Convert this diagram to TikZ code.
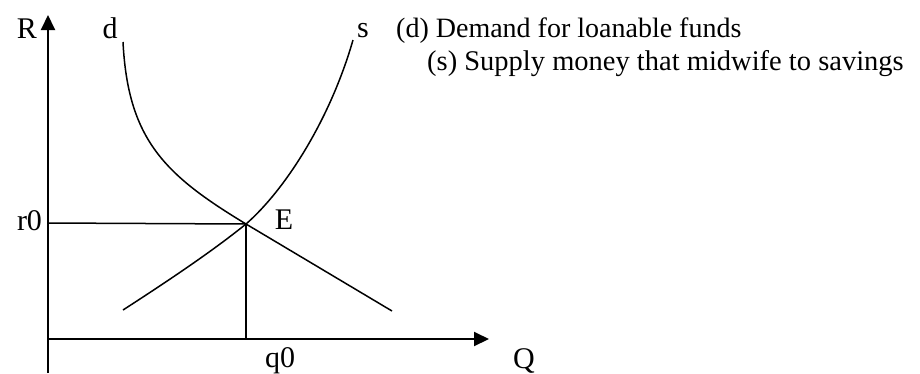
\documentclass[tikz,border=0pt]{standalone}
\usepackage{fontspec}
\setmainfont{Liberation Serif}
\usetikzlibrary{arrows.meta}
\begin{document}
\begin{tikzpicture}[x=1pt,y=-1pt,
  lbl/.style={font=\fontsize{30}{32}\selectfont, inner sep=0pt, anchor=base},
  legend/.style={inner sep=0pt, anchor=base west},
  curve/.style={line width=1.5pt},
  thin line/.style={line width=1.5pt},
  axis/.style={line width=2pt, -{Triangle[length=15pt,width=14pt]}}]
\useasboundingbox (0,0) rectangle (920,373);
% key points
\coordinate (Ybot) at (48,373);
\coordinate (Ytop) at (48,15);
\coordinate (Xstart) at (48,339);
\coordinate (Xend) at (489,339);
\coordinate (E) at (246,224);
\coordinate (r0pt) at (48,223);
\coordinate (q0pt) at (246,339);
\coordinate (dtop) at (123,42);
\coordinate (dend) at (392,311);
\coordinate (sbot) at (123,310);
\coordinate (stop) at (353,40);
% axes
\draw[axis] (Ybot) -- (Ytop);
\draw[axis] (Xstart) -- (Xend);
% guide lines
\draw[thin line] (r0pt) -- (E);
\draw[thin line] (E) -- (q0pt);
% demand
\draw[curve] (dtop) .. controls (128,140) and (165,175) .. (E) -- (dend);
% supply
\draw[curve] (sbot) .. controls (185,270) and (220,245) .. (E) .. controls (285,190) and (330,120) .. (stop);
% labels
\node[lbl] (Rl) at (27,38) {R};
\node[lbl] (dl) at (110,38) {d};
\node[lbl] (sl) at (363,37) {s};
\node[lbl] (r0l) at (29.5,230) {r0};
\node[lbl] (El) at (284,229) {E};
\node[lbl] (q0l) at (280,367) {q0};
\node[lbl] (Ql) at (524,368) {Q};
\node[legend, font=\fontsize{28}{30}\selectfont] (legd) at (396,37) {(d) Demand for loanable funds};
\node[legend, font=\fontsize{28.5}{30}\selectfont] (legs) at (427,70) {(s) Supply money that midwife to savings};
\end{tikzpicture}
\end{document}
